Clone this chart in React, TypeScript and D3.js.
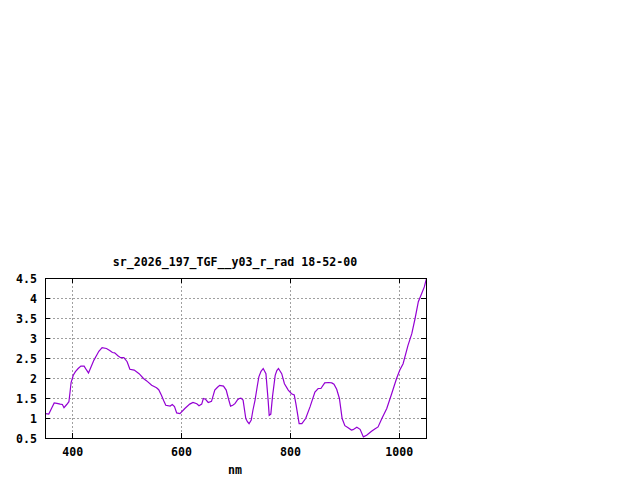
import { useEffect, useRef } from 'react';
import * as d3 from 'd3';

// wavelength (nm) and radiance
const wavelengths = [
  350, 356, 361, 366, 371, 377, 381, 384, 389, 393, 395, 397, 401, 405, 410, 415, 421, 425, 429, 434,
  439, 444, 448, 454, 462, 468, 473, 477, 483, 488, 494, 500, 505, 513, 522, 530, 536, 545, 554, 558,
  563, 567, 571, 579, 583, 587, 591, 597, 606, 615, 621, 628, 632, 637, 640, 644, 649, 655, 661, 666,
  670, 677, 682, 686, 690, 694, 698, 703, 706, 709, 713, 718, 721, 724, 728, 731, 735, 739, 742, 746,
  750, 755, 759, 761, 764, 767, 772, 775, 778, 784, 789, 796, 802, 807, 810, 816, 821, 828, 836, 845,
  851, 856, 863, 870, 876, 880, 885, 890, 895, 900, 906, 912, 915, 922, 928, 934, 940, 949, 955, 961,
  968, 977, 986, 995, 1001, 1007, 1016, 1023, 1029, 1035, 1041, 1046, 1050,
];
const radiance = [
  1.12, 1.11, 1.25, 1.39, 1.38, 1.36, 1.35, 1.27, 1.35, 1.42, 1.65, 1.9, 2.08, 2.17, 2.25, 2.31, 2.31, 2.22, 2.14, 2.3,
  2.46, 2.58, 2.68, 2.77, 2.75, 2.7, 2.65, 2.64, 2.57, 2.52, 2.52, 2.42, 2.23, 2.21, 2.12, 2.0, 1.94, 1.83, 1.77, 1.72,
  1.58, 1.45, 1.33, 1.31, 1.35, 1.3, 1.14, 1.12, 1.25, 1.36, 1.4, 1.37, 1.32, 1.36, 1.5, 1.48, 1.4, 1.43, 1.71, 1.78,
  1.83, 1.81, 1.71, 1.5, 1.31, 1.33, 1.37, 1.47, 1.5, 1.51, 1.46, 1.0, 0.92, 0.87, 0.96, 1.2, 1.46, 1.8, 2.04, 2.18,
  2.25, 2.12, 1.46, 1.08, 1.11, 1.54, 2.08, 2.2, 2.25, 2.12, 1.87, 1.71, 1.62, 1.59, 1.37, 0.87, 0.87, 1.0, 1.29, 1.66,
  1.75, 1.75, 1.89, 1.9, 1.89, 1.86, 1.73, 1.5, 1.0, 0.82, 0.77, 0.71, 0.72, 0.78, 0.73, 0.54, 0.58, 0.68, 0.74, 0.79,
  1.0, 1.25, 1.62, 2.0, 2.21, 2.37, 2.83, 3.12, 3.5, 3.92, 4.12, 4.29, 4.5,
];
const xTicks = [400, 600, 800, 1000];
const yTicks = [0.5, 1, 1.5, 2, 2.5, 3, 3.5, 4, 4.5];
const yTickLabels = ['0.5', '1', '1.5', '2', '2.5', '3', '3.5', '4', '4.5'];
const title = 'sr_2026_197_TGF__y03_r_rad 18-52-00';
const xLabel = 'nm';

export default function App() {
  const svgRef = useRef<SVGSVGElement>(null);

  useEffect(() => {
    if (!svgRef.current) return;
    const width = 640;
    const height = 480;
    const left = 45, right = 426, top = 278, bottom = 438;
    const font = '"DejaVu Sans Mono", monospace';

    const svg = d3.select(svgRef.current);
    svg.selectAll('*').remove();
    svg.attr('viewBox', `0 0 ${width} ${height}`);

    svg.append('rect').attr('width', width).attr('height', height).attr('fill', '#fff');

    const x = d3.scaleLinear().domain([350, 1050]).range([left, right]);
    const y = d3.scaleLinear().domain([0.5, 4.5]).range([bottom, top]);

    // grid
    const grid = svg.append('g')
      .attr('stroke', '#a0a0a0')
      .attr('stroke-dasharray', '2,2')
      .attr('shape-rendering', 'crispEdges');
    xTicks.forEach(t => {
      grid.append('line')
        .attr('x1', Math.round(x(t)) + 0.5).attr('x2', Math.round(x(t)) + 0.5)
        .attr('y1', top).attr('y2', bottom);
    });
    yTicks.slice(1, -1).forEach(t => {
      grid.append('line')
        .attr('x1', left).attr('x2', right)
        .attr('y1', Math.round(y(t)) + 0.5).attr('y2', Math.round(y(t)) + 0.5);
    });

    // ticks (inward, mirrored)
    const ticks = svg.append('g').attr('stroke', '#000').attr('shape-rendering', 'crispEdges');
    xTicks.forEach(t => {
      const px = Math.round(x(t)) + 0.5;
      ticks.append('line').attr('x1', px).attr('x2', px).attr('y1', bottom).attr('y2', bottom - 5);
      ticks.append('line').attr('x1', px).attr('x2', px).attr('y1', top).attr('y2', top + 5);
    });
    yTicks.forEach(t => {
      const py = Math.round(y(t)) + 0.5;
      ticks.append('line').attr('x1', left).attr('x2', left + 5).attr('y1', py).attr('y2', py);
      ticks.append('line').attr('x1', right).attr('x2', right - 5).attr('y1', py).attr('y2', py);
    });

    // data line
    svg.append('clipPath').attr('id', 'plotclip')
      .append('rect').attr('x', left).attr('y', top).attr('width', right - left + 1).attr('height', bottom - top + 1);

    const pts = wavelengths.map((w, i) => [w, radiance[i]] as [number, number]);
    const line = d3.line<[number, number]>()
      .x(d => x(d[0]) + 0.5)
      .y(d => y(d[1]) + 0.5);
    svg.append('path')
      .attr('d', line(pts))
      .attr('fill', 'none')
      .attr('stroke', '#9400d3')
      .attr('stroke-width', 1.2)
      .attr('clip-path', 'url(#plotclip)');

    // frame
    svg.append('rect')
      .attr('x', left + 0.5).attr('y', top + 0.5)
      .attr('width', right - left).attr('height', bottom - top)
      .attr('fill', 'none').attr('stroke', '#000')
      .attr('shape-rendering', 'crispEdges');

    // labels
    const labels = svg.append('g')
      .style('font-family', font)
      .style('font-size', '11.6px')
      .style('font-weight', 'bold')
      .attr('fill', '#000');
    xTicks.forEach(t => {
      labels.append('text').attr('x', x(t) + 0.5).attr('y', 456).attr('text-anchor', 'middle').text(String(t));
    });
    yTicks.forEach((t, i) => {
      labels.append('text').attr('x', 37).attr('y', y(t) + 4.5).attr('text-anchor', 'end').text(yTickLabels[i]);
    });
    labels.append('text').attr('x', 235).attr('y', 266).attr('text-anchor', 'middle').text(title);
    labels.append('text').attr('x', 235).attr('y', 474).attr('text-anchor', 'middle').text(xLabel);
  }, []);

  return (
    <div style={{ position: 'absolute', left: 0, top: 0, width: 640, height: 480 }}>
      <svg ref={svgRef} width={640} height={480} style={{ display: 'block' }}></svg>
    </div>
  );
}
